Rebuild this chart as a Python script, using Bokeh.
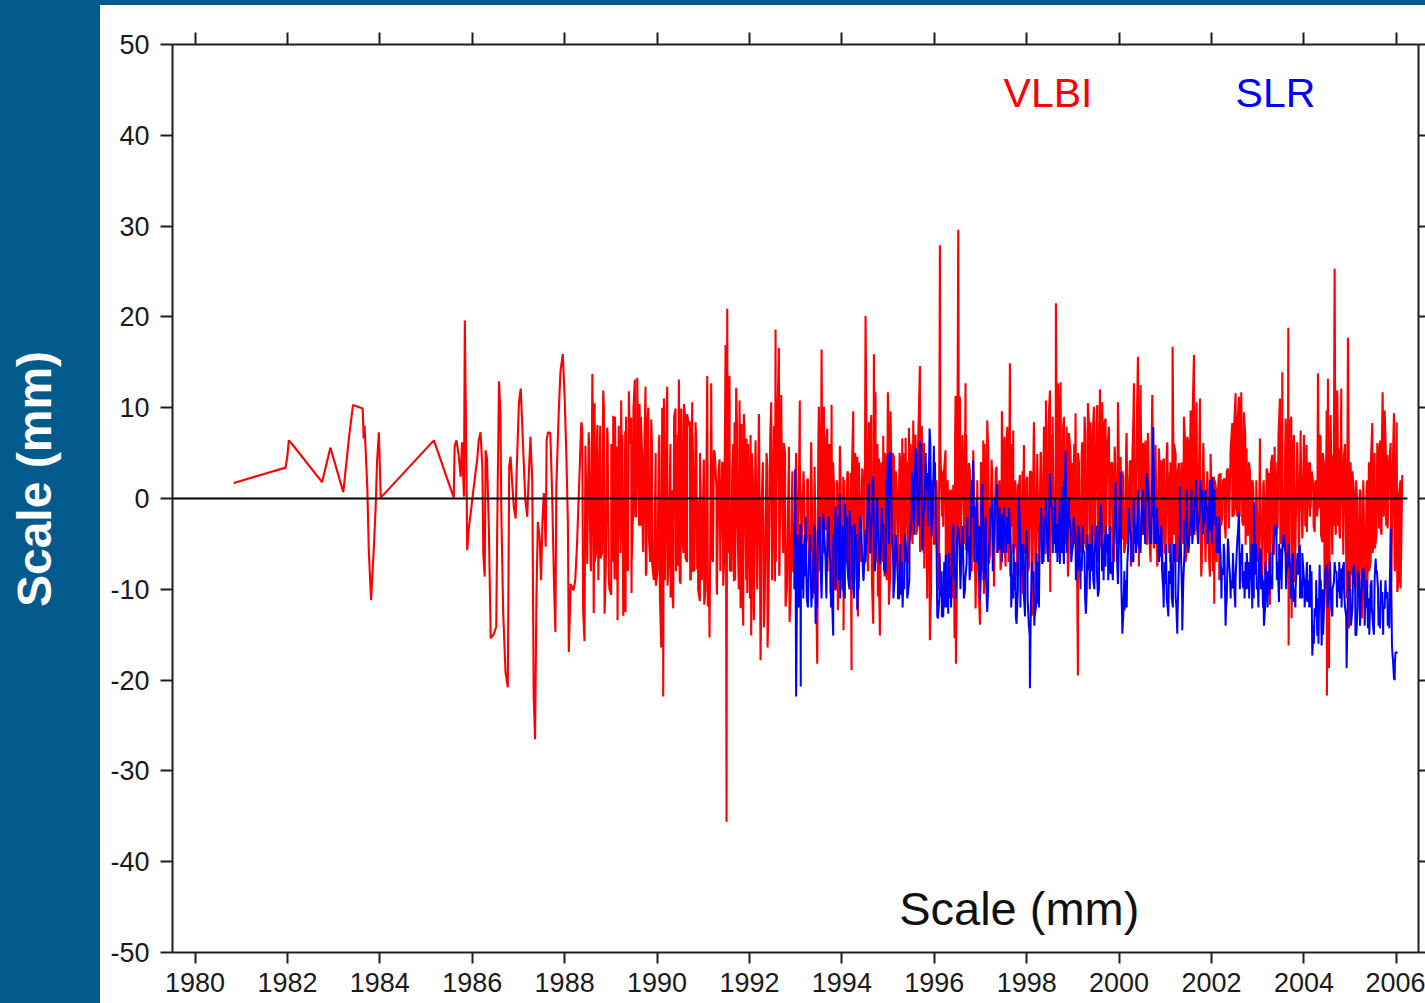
import math
from bokeh.plotting import figure
from bokeh.models import Range1d, FixedTicker, Label, LinearAxis, Div
from bokeh.layouts import row, column
from bokeh.embed import file_html
from bokeh.resources import INLINE

# ---------------- data ----------------
x_ticks = [1980, 1982, 1984, 1986, 1988, 1990, 1992, 1994, 1996, 1998, 2000, 2002, 2004, 2006]
x_tick_labels = ["1980", "1982", "1984", "1986", "1988", "1990", "1992", "1994", "1996",
                 "1998", "2000", "2002", "2004", "2006"]
y_ticks = [-50, -40, -30, -20, -10, 0, 10, 20, 30, 40, 50]
y_tick_labels = ["-50", "-40", "-30", "-20", "-10", "0", "10", "20", "30", "40", "50"]

# VLBI scale (mm) : (year, value) -- envelope / spike readings
vlbi_1980_1985 = [
    (1980.84, 1.7), (1981.42, 2.6), (1981.96, 3.4), (1982.00, 4.7), (1982.03, 6.4), (1982.10, 6.0),
    (1982.75, 1.8), (1982.93, 5.6), (1983.21, 0.7), (1983.33, 6.6), (1983.42, 10.3), (1983.63, 9.9),
    (1983.65, 6.6), (1983.67, 8.0), (1983.73, 1.1), (1983.76, -5.5), (1983.81, -11.2), (1983.87, -5.5),
    (1983.91, -1.0), (1983.94, 4.0), (1983.98, 7.3), (1984.02, 0.1), (1985.17, 6.4), (1985.60, 0.1),
]
vlbi_1985_1988 = [
    (1985.62, 5.8), (1985.66, 6.4), (1985.71, 4.6), (1985.75, 2.4), (1985.78, 6.2), (1985.82, 0.2),
    (1985.84, 19.6), (1985.88, 0.7), (1985.89, -5.7), (1985.93, -3.1), (1985.98, -1.1), (1986.02, 0.7),
    (1986.07, 2.8), (1986.11, 4.4), (1986.14, 6.4), (1986.18, 7.3), (1986.22, 3.3), (1986.24, -6.2),
    (1986.27, -8.6), (1986.29, 5.3), (1986.32, 4.4), (1986.36, -3.3), (1986.40, -15.4), (1986.47, -14.9),
    (1986.52, -14.1), (1986.54, -3.5), (1986.58, 12.9), (1986.61, 9.3), (1986.63, -1.7), (1986.67, -12.5),
    (1986.72, -19.1), (1986.77, -20.8), (1986.80, 3.5), (1986.83, 4.6), (1986.87, 1.3), (1986.90, -0.9),
    (1986.94, -2.2), (1986.96, 2.8), (1987.01, 10.5), (1987.05, 12.1), (1987.08, 8.4), (1987.12, 3.3),
    (1987.15, -0.2), (1987.19, -2.0), (1987.23, 3.3), (1987.26, 6.8), (1987.30, 1.8), (1987.33, -21.8),
    (1987.36, -26.5), (1987.39, -10.8), (1987.42, -2.6), (1987.46, -4.4), (1987.49, -9.0), (1987.52, -2.4),
    (1987.55, 0.6), (1987.59, -5.3), (1987.61, 6.4), (1987.64, 7.3), (1987.69, 7.2), (1987.73, 0.4),
    (1987.77, -9.4), (1987.80, -14.7), (1987.82, 1.3), (1987.87, 9.2), (1987.91, 14.0), (1987.96, 15.9),
    (1988.00, 11.2), (1988.04, 4.2), (1988.07, -2.6), (1988.09, -16.9), (1988.13, -9.4), (1988.19, -10.1),
    (1988.23, -9.0), (1988.27, -4.8), (1988.32, 2.4), (1988.36, 8.4), (1988.38, 7.8), (1988.40, -12.3),
    (1988.43, -15.7), (1988.45, 5.8), (1988.49, -7.2), (1988.52, 7.3), (1988.56, -6.9), (1988.60, 13.7),
    (1988.63, -12.6), (1988.65, 10.5), (1988.68, -6.0), (1988.71, 8.1),
]
vlbi_1988_1993 = [
    (1988.777, -6.6), (1988.835, 11.9), (1988.864, -12.7), (1988.921, 7.8), (1988.957, -8.9),
    (1989.008, -10.6), (1989.051, 9.1), (1989.080, -8.9), (1989.138, 5.7), (1989.145, -13.4),
    (1989.224, 10.8), (1989.246, -4.6), (1989.268, -12.9), (1989.311, 7.4), (1989.318, -12.5),
    (1989.354, -7.4), (1989.390, 11.8), (1989.441, 8.9), (1989.448, -10.4), (1989.484, -1.1),
    (1989.520, 13.1), (1989.545, -2.0), (1989.571, 13.3), (1989.621, 10.4), (1989.643, -3.0),
    (1989.679, 4.4), (1989.701, -5.9), (1989.751, 12.3), (1989.758, -8.5), (1989.787, 7.6),
    (1989.823, -4.1), (1989.874, 8.7), (1989.895, -7.2), (1989.968, 3.6), (1989.975, -9.6),
    (1990.040, 6.3), (1990.061, -10.4), (1990.090, -16.4), (1990.112, 10.0), (1990.133, -21.8),
    (1990.148, 11.0), (1990.220, 12.3), (1990.227, -9.6), (1990.292, -10.9), (1990.328, 0.9),
    (1990.350, -12.1), (1990.400, 9.9), (1990.451, -7.4), (1990.473, 13.1), (1990.509, -9.4),
    (1990.523, 9.9), (1990.550, -4.0), (1990.581, 10.4), (1990.617, -6.6), (1990.653, 9.3),
    (1990.711, 8.5), (1990.718, -8.9), (1990.761, 10.6), (1990.768, -8.1), (1990.833, 8.4),
    (1990.869, -7.8), (1990.884, -0.2), (1990.927, -11.3), (1990.942, 1.3), (1991.014, 4.3),
    (1991.021, -11.7), (1991.086, 13.5), (1991.100, -11.9), (1991.136, -15.3), (1991.172, 12.7),
    (1991.194, -6.6), (1991.230, 5.3), (1991.288, 0.9), (1991.295, -10.6), (1991.353, 4.3),
    (1991.374, -5.3), (1991.425, 3.9), (1991.432, -9.6), (1991.483, 16.9), (1991.504, -35.6),
    (1991.519, 20.9), (1991.569, 13.5), (1991.576, -7.9), (1991.627, 3.5), (1991.663, -9.1),
    (1991.677, 8.4), (1991.713, 12.2), (1991.735, -1.3), (1991.786, 10.8), (1991.807, -12.1),
    (1991.829, 8.2), (1991.865, -14.0), (1991.879, 9.3), (1991.937, 6.6), (1991.952, -10.4),
    (1992.024, 7.0), (1992.038, -15.1), (1992.074, 2.4), (1992.096, -13.4), (1992.132, 6.4),
    (1992.168, -10.0), (1992.204, 9.3), (1992.240, -17.8), (1992.255, -2.1), (1992.312, -14.2),
    (1992.385, 3.6), (1992.392, -16.4), (1992.471, 10.6), (1992.493, -8.1), (1992.551, -9.1),
    (1992.565, 18.6), (1992.637, 16.6), (1992.644, -8.5), (1992.688, 11.4), (1992.709, -0.4),
    (1992.745, 6.1), (1992.781, -11.9), (1992.854, 5.7), (1992.868, -13.6), (1992.926, 2.4),
    (1992.947, -8.1), (1992.998, 1.6), (1993.040, -7.0), (1993.090, 10.8),
]
vlbi_1993_1997 = [
    (1993.142, -2.8), (1993.178, 1.6), (1993.250, -3.5), (1993.265, 2.2), (1993.323, -5.0),
    (1993.337, 6.2), (1993.395, -10.5), (1993.409, 3.5), (1993.467, -18.2), (1993.503, 10.1),
    (1993.539, -7.5), (1993.561, 16.4), (1993.585, -3.0), (1993.611, 10.1), (1993.647, -3.5),
    (1993.683, 7.7), (1993.755, -10.5), (1993.777, 10.3), (1993.791, -11.6), (1993.828, 1.6),
    (1993.864, -10.1), (1993.900, 1.3), (1993.914, -12.3), (1993.957, 5.8), (1993.990, -6.0),
    (1994.030, 2.4), (1994.037, -14.5), (1994.080, -5.7), (1994.116, 2.8), (1994.152, -8.6),
    (1994.188, 2.8), (1994.210, -18.9), (1994.246, 9.6), (1994.275, -8.6), (1994.333, 4.6),
    (1994.347, -13.0), (1994.375, 3.0), (1994.405, -6.4), (1994.441, 3.3), (1994.491, -7.2),
    (1994.513, 20.1), (1994.564, -7.9), (1994.585, 8.4), (1994.610, -5.0), (1994.636, 9.2),
    (1994.679, -13.8), (1994.693, 15.9), (1994.710, -4.0), (1994.729, 11.7), (1994.780, -10.8),
    (1994.802, 4.4), (1994.823, -15.1), (1994.860, 3.0), (1994.895, 6.9), (1994.924, -8.6),
    (1994.960, 4.0), (1994.996, 11.7), (1995.018, -11.7), (1995.054, 9.6), (1995.090, -5.0),
    (1995.126, 4.6), (1995.133, -9.4), (1995.198, -0.2), (1995.213, -7.5), (1995.260, 4.0),
    (1995.307, 6.6), (1995.314, -10.8), (1995.379, 6.7), (1995.400, -3.0), (1995.429, -7.2),
    (1995.451, 7.8), (1995.490, -3.0), (1995.523, -4.6), (1995.545, 8.6), (1995.570, -2.0),
    (1995.595, 7.0), (1995.640, -3.0), (1995.689, 14.6), (1995.696, -5.9), (1995.730, 4.0),
    (1995.776, 6.1), (1995.783, -7.7), (1995.820, 3.0), (1995.848, -11.0), (1995.884, 3.9),
    (1995.905, -15.6), (1995.940, 2.0), (1995.978, 0.9), (1995.992, -5.0), (1996.050, 1.6),
    (1996.100, -10.1), (1996.122, 27.9), (1996.172, -0.6), (1996.183, 3.0), (1996.194, -3.1),
    (1996.244, 5.3), (1996.281, -11.2), (1996.338, 0.9), (1996.353, -9.7), (1996.411, 1.5),
    (1996.439, -15.4), (1996.461, 11.3), (1996.468, -18.2), (1996.519, 29.6), (1996.540, -3.0),
    (1996.555, 11.2), (1996.569, -8.6), (1996.620, 5.0), (1996.677, 12.7), (1996.684, -5.7),
    (1996.750, 3.9), (1996.786, -7.5), (1996.844, 5.3), (1996.894, -12.1), (1996.930, 1.3),
    (1996.988, -13.9), (1997.025, 3.0), (1997.060, 6.4), (1997.074, -10.5), (1997.146, 8.6),
    (1997.183, -7.2), (1997.240, 4.3), (1997.291, -9.7), (1997.348, 3.5), (1997.370, -4.0),
    (1997.399, 1.1), (1997.435, -7.9), (1997.464, 9.6), (1997.490, -4.0), (1997.522, 6.8),
    (1997.543, -7.5), (1997.580, 7.9), (1997.610, -5.0), (1997.637, 14.9), (1997.644, -8.6),
]
vlbi_1997_2002 = [
    (1997.688, -3.1), (1997.709, 7.5), (1997.738, -5.3), (1997.760, 0.9), (1997.796, -8.6),
    (1997.810, 1.6), (1997.830, -4.0), (1997.854, 2.6), (1997.868, -8.6), (1997.904, 0.2),
    (1997.911, -10.5), (1997.940, 5.9), (1997.976, -5.7), (1998.012, 2.4), (1998.048, -7.5),
    (1998.099, 2.9), (1998.120, -12.9), (1998.157, 8.4), (1998.193, -10.1), (1998.229, 4.9),
    (1998.265, -6.4), (1998.301, 5.1), (1998.337, -7.2), (1998.373, 7.9), (1998.409, -6.1),
    (1998.416, 10.8), (1998.460, -4.0), (1998.503, 11.9), (1998.510, -10.3), (1998.553, -3.5),
    (1998.561, 9.0), (1998.626, -2.4), (1998.633, 21.5), (1998.655, -3.0), (1998.676, 12.7),
    (1998.698, -5.3), (1998.734, 12.8), (1998.770, -3.0), (1998.806, 9.0), (1998.813, -5.0),
    (1998.864, 7.9), (1998.893, -8.6), (1998.914, 7.2), (1998.965, -4.2), (1998.986, 3.9),
    (1999.037, -5.0), (1999.058, 9.4), (1999.085, -4.0), (1999.109, -19.5), (1999.131, 3.9),
    (1999.181, -5.7), (1999.203, 6.2), (1999.230, -4.0), (1999.253, 9.0), (1999.275, -5.0),
    (1999.325, 10.5), (1999.369, -6.0), (1999.383, 8.4), (1999.420, -4.0), (1999.455, 10.1),
    (1999.462, -3.0), (1999.527, 10.3), (1999.542, -7.0), (1999.585, 12.0), (1999.614, -5.5),
    (1999.636, 10.6), (1999.670, -4.0), (1999.708, 8.8), (1999.715, -4.0), (1999.780, 7.9),
    (1999.802, -5.0), (1999.852, 3.9), (1999.888, -7.0), (1999.903, 5.7), (1999.960, -5.0),
    (1999.975, 10.6), (2000.000, -4.0), (2000.032, 4.6), (2000.069, -4.5), (2000.090, 2.4),
    (2000.141, -5.0), (2000.162, 7.2), (2000.200, -4.0), (2000.249, 4.2), (2000.256, -7.5),
    (2000.290, 5.0), (2000.321, 12.7), (2000.335, -4.5), (2000.408, 15.6), (2000.429, -7.5),
    (2000.465, 12.5), (2000.501, -3.0), (2000.523, 6.1), (2000.550, -4.0), (2000.574, 6.4),
    (2000.610, -5.0), (2000.624, 7.2), (2000.682, -7.0), (2000.718, 11.4), (2000.754, -5.5),
    (2000.790, 5.9), (2000.826, -7.5), (2000.862, 5.5), (2000.890, -5.0), (2000.913, 4.2),
    (2000.934, -8.0), (2000.970, 4.4), (2001.006, -6.0), (2001.043, 6.2), (2001.070, -5.0),
    (2001.100, 2.9), (2001.107, -7.0), (2001.158, 16.7), (2001.187, -4.0), (2001.223, 4.9),
    (2001.259, -7.0), (2001.295, 3.9), (2001.320, -5.0), (2001.346, 3.5), (2001.367, -3.5),
    (2001.403, 9.0), (2001.439, -7.0), (2001.475, 6.8), (2001.512, -4.5), (2001.548, 9.7),
    (2001.584, -4.0), (2001.620, 15.8), (2001.650, -3.0), (2001.677, 10.6), (2001.692, -3.5),
    (2001.750, 11.0), (2001.778, -8.6), (2001.822, 6.1), (2001.872, -6.4), (2001.908, 2.9),
    (2001.966, -8.6), (2001.980, 4.9), (2002.020, -6.0), (2002.052, 2.4), (2002.059, -11.6),
    (2002.100, 1.0), (2002.161, 2.7), (2002.168, -9.0),
]
vlbi_2002_2006 = [
    (2002.197, 2.8), (2002.233, -1.8), (2002.284, 2.2), (2002.305, -4.4), (2002.356, 3.3),
    (2002.377, -3.3), (2002.410, 4.0), (2002.450, 8.3), (2002.486, -1.8), (2002.522, 11.6),
    (2002.560, -2.0), (2002.594, 11.2), (2002.601, -1.1), (2002.644, 11.7), (2002.666, -2.6),
    (2002.702, 9.5), (2002.738, -5.1), (2002.760, 5.5), (2002.800, -4.0), (2002.832, 2.9),
    (2002.839, -6.2), (2002.860, 2.0), (2002.882, -8.8), (2002.904, 1.1), (2002.955, -7.3),
    (2002.976, 0.4), (2003.027, -5.5), (2003.048, 6.6), (2003.099, -8.4), (2003.121, 1.5),
    (2003.171, -11.0), (2003.193, 3.3), (2003.220, -6.0), (2003.243, 2.8), (2003.265, -11.7),
    (2003.315, 4.8), (2003.351, -6.2), (2003.366, 5.7), (2003.400, -4.0), (2003.424, 4.0),
    (2003.431, -3.3), (2003.481, 11.0), (2003.510, -4.0), (2003.532, 13.9), (2003.539, -5.5),
    (2003.604, 8.8), (2003.611, -5.1), (2003.662, 18.8), (2003.669, -16.2), (2003.727, 9.0),
    (2003.734, -13.2), (2003.784, 7.0), (2003.799, -9.2), (2003.856, 6.2), (2003.893, -6.2),
    (2003.929, 7.5), (2003.965, -4.4), (2004.001, 7.0), (2004.030, -3.0), (2004.058, 5.9),
    (2004.065, -3.7), (2004.131, 4.0), (2004.145, -1.1), (2004.203, 1.5), (2004.232, -3.7),
    (2004.253, 0.0), (2004.304, 13.8), (2004.325, -1.1), (2004.362, 6.8), (2004.398, -4.8),
    (2004.434, 3.7), (2004.448, -9.9), (2004.491, 9.7), (2004.498, -21.7), (2004.520, 13.2),
    (2004.542, -18.7), (2004.578, 9.2), (2004.614, -6.2), (2004.636, 4.8), (2004.650, -3.0),
    (2004.665, 25.3), (2004.686, -3.7), (2004.722, 11.9), (2004.740, -3.0), (2004.758, 5.5),
    (2004.780, -4.4), (2004.809, 12.1), (2004.852, -6.2), (2004.867, 4.8), (2004.924, -11.0),
    (2004.953, 17.7), (2004.975, -14.3), (2005.011, 4.0), (2005.047, -8.4), (2005.083, 0.7),
    (2005.119, -9.9), (2005.155, -0.5), (2005.191, -10.6), (2005.227, 0.7), (2005.263, -13.2),
    (2005.285, 2.0), (2005.320, -12.0), (2005.357, 1.1), (2005.372, -9.9), (2005.408, 4.0),
    (2005.444, -7.0), (2005.480, 8.3), (2005.510, -4.0), (2005.530, 3.3), (2005.537, -5.5),
    (2005.588, 6.1), (2005.624, -3.3), (2005.646, 6.4), (2005.680, -4.0), (2005.704, 11.7),
    (2005.732, -0.4), (2005.747, 9.7), (2005.780, -3.0), (2005.805, 4.8), (2005.812, -3.3),
    (2005.877, 6.1), (2005.891, -9.2), (2005.949, 9.4), (2005.963, -7.0), (2006.007, 8.4),
    (2006.021, -10.3), (2006.057, 0.4), (2006.093, -9.9), (2006.129, 2.6),
]
# VLBI core-band readings (the dense fill between the envelopes)
vlbi_core_1988_1993 = [
    (1988.53, 6), (1988.57, -8), (1988.61, 9), (1988.65, -7), (1988.69, 5), (1988.73, -9), (1988.77, 8),
    (1988.81, -6), (1988.85, 10), (1988.89, -8), (1988.93, 7), (1988.97, -10), (1989.01, 6), (1989.05, -7),
    (1989.09, 9), (1989.13, -9), (1989.17, 8), (1989.21, -6), (1989.25, 7), (1989.29, -10), (1989.33, 9),
    (1989.37, -8), (1989.41, 6), (1989.45, -7), (1989.49, 10), (1989.53, -2), (1989.57, 8), (1989.61, -3),
    (1989.65, 9), (1989.69, -4), (1989.73, 7), (1989.77, -8), (1989.81, 10), (1989.85, -7), (1989.89, 6),
    (1989.93, -9), (1989.97, 5), (1990.01, -8), (1990.05, 7), (1990.09, -11), (1990.13, 8), (1990.17, -9),
    (1990.21, 10), (1990.25, -7), (1990.29, 6), (1990.33, -10), (1990.37, 9), (1990.41, -8), (1990.45, 7),
    (1990.49, -9), (1990.53, 8), (1990.57, -6), (1990.61, 9), (1990.65, -7), (1990.69, 8), (1990.73, -9),
    (1990.77, 7), (1990.81, -8), (1990.85, 6), (1990.89, -10), (1990.93, 5), (1990.97, -9), (1991.01, 4),
    (1991.05, -10), (1991.09, 9), (1991.13, -11), (1991.17, 8), (1991.21, -7), (1991.25, 5), (1991.29, -9),
    (1991.33, 3), (1991.37, -8), (1991.41, 4), (1991.45, -7), (1991.49, 9), (1991.53, -6), (1991.57, 10),
    (1991.61, -8), (1991.65, 6), (1991.69, -9), (1991.73, 8), (1991.77, -10), (1991.81, 7), (1991.85, -11),
    (1991.89, 8), (1991.93, -9), (1991.97, 6), (1992.01, -11), (1992.05, 5), (1992.09, -12), (1992.13, 6),
    (1992.17, -9), (1992.21, 7), (1992.25, -13), (1992.29, 4), (1992.33, -11), (1992.37, 5), (1992.41, -12),
    (1992.45, 7), (1992.49, -9), (1992.53, 8), (1992.57, -7), (1992.61, 10), (1992.65, -8), (1992.69, 9),
    (1992.73, -6), (1992.77, 5), (1992.81, -10), (1992.85, 4), (1992.89, -11), (1992.93, 3), (1992.97, -8),
]
vlbi_core_1993_1997 = [
    (1993.01, 5), (1993.05, -9), (1993.09, 4), (1993.13, -5), (1993.17, 3), (1993.21, -6), (1993.25, 2),
    (1993.29, -8), (1993.33, 4), (1993.37, -9), (1993.41, 3), (1993.45, -12), (1993.49, 6), (1993.53, -8),
    (1993.57, 8), (1993.61, -6), (1993.65, 5), (1993.69, -8), (1993.73, 6), (1993.77, -9), (1993.81, 4),
    (1993.85, -10), (1993.89, 2), (1993.93, -9), (1993.97, 3), (1994.01, -10), (1994.05, 2), (1994.09, -7),
    (1994.13, 3), (1994.17, -9), (1994.21, 1), (1994.25, -10), (1994.29, 5), (1994.33, -9), (1994.37, 4),
    (1994.41, -7), (1994.45, 3), (1994.49, -6), (1994.53, 9), (1994.57, -8), (1994.61, 6), (1994.65, -9),
    (1994.69, 8), (1994.73, -7), (1994.77, 6), (1994.81, -11), (1994.85, 4), (1994.89, -7), (1994.93, 5),
    (1994.97, -9), (1995.01, 7), (1995.05, -8), (1995.09, 5), (1995.13, -7), (1995.17, 3), (1995.21, -8),
    (1995.25, 5), (1995.29, -9), (1995.33, 5), (1995.37, -7), (1995.41, 4), (1995.45, -6), (1995.49, 6),
    (1995.53, -5), (1995.57, 6), (1995.61, -4), (1995.65, 6), (1995.69, -5), (1995.73, 8), (1995.77, -6),
    (1995.81, 4), (1995.85, -9), (1995.89, 2), (1995.93, -10), (1995.97, 1), (1996.01, -5), (1996.05, 2),
    (1996.09, -8), (1996.13, 6), (1996.17, -2), (1996.21, 3), (1996.25, -8), (1996.29, 2), (1996.33, -9),
    (1996.37, 1), (1996.41, -11), (1996.45, 6), (1996.49, -9), (1996.53, 8), (1996.57, -6), (1996.61, 7),
    (1996.65, -5), (1996.69, 7), (1996.73, -6), (1996.77, 3), (1996.81, -8), (1996.85, 3), (1996.89, -10),
    (1996.93, 2), (1996.97, -11), (1997.01, 4), (1997.05, -8), (1997.09, 6), (1997.13, -7), (1997.17, 5),
    (1997.21, -6), (1997.25, 3), (1997.29, -8), (1997.33, 3), (1997.37, -6), (1997.41, 2), (1997.45, -7),
    (1997.49, 5), (1997.53, -6), (1997.57, 6), (1997.61, -7),
]
vlbi_core_1997_2002 = [
    (1997.67, 6), (1997.71, -6), (1997.75, 2), (1997.79, -7), (1997.83, 1), (1997.87, -8), (1997.91, 3),
    (1997.95, -6), (1997.99, 2), (1998.03, -8), (1998.07, 3), (1998.11, -10), (1998.15, 6), (1998.19, -8),
    (1998.23, 4), (1998.27, -7), (1998.31, 5), (1998.35, -6), (1998.39, 7), (1998.43, -5), (1998.47, 8),
    (1998.51, -7), (1998.55, 7), (1998.59, -4), (1998.63, 10), (1998.67, -4), (1998.71, 9), (1998.75, -4),
    (1998.79, 8), (1998.83, -5), (1998.87, 6), (1998.91, -6), (1998.95, 5), (1998.99, -5), (1999.03, 6),
    (1999.07, -5), (1999.11, 5), (1999.15, -6), (1999.19, 5), (1999.23, -5), (1999.27, 7), (1999.31, -6),
    (1999.35, 8), (1999.39, -5), (1999.43, 7), (1999.47, -6), (1999.51, 8), (1999.55, -6), (1999.59, 9),
    (1999.63, -5), (1999.67, 8), (1999.71, -5), (1999.75, 6), (1999.79, -6), (1999.83, 4), (1999.87, -6),
    (1999.91, 5), (1999.95, -5), (1999.99, 6), (2000.03, -5), (2000.07, 3), (2000.11, -6), (2000.15, 5),
    (2000.19, -5), (2000.23, 4), (2000.27, -6), (2000.31, 9), (2000.35, -5), (2000.39, 10), (2000.43, -6),
    (2000.47, 9), (2000.51, -4), (2000.55, 5), (2000.59, -5), (2000.63, 6), (2000.67, -6), (2000.71, 8),
    (2000.75, -5), (2000.79, 5), (2000.83, -7), (2000.87, 4), (2000.91, -6), (2000.95, 4), (2000.99, -6),
    (2001.03, 5), (2001.07, -6), (2001.11, 4), (2001.15, -5), (2001.19, 6), (2001.23, -6), (2001.27, 3),
    (2001.31, -6), (2001.35, 4), (2001.39, -5), (2001.43, 6), (2001.47, -5), (2001.51, 6), (2001.55, -4),
    (2001.59, 9), (2001.63, -4), (2001.67, 8), (2001.71, -5), (2001.75, 7), (2001.79, -7), (2001.83, 4),
    (2001.87, -7), (2001.91, 3), (2001.95, -7), (2001.99, 3), (2002.03, -8), (2002.07, 2), (2002.11, -7),
    (2002.15, 2),
]
vlbi_core_2002_2006 = [
    (2002.21, -3), (2002.25, 2), (2002.29, -3), (2002.33, 3), (2002.37, -2), (2002.41, 5), (2002.45, -2),
    (2002.49, 8), (2002.53, -1), (2002.57, 9), (2002.61, -2), (2002.65, 9), (2002.69, -3), (2002.73, 7),
    (2002.77, -4), (2002.81, 4), (2002.85, -5), (2002.89, 2), (2002.93, -7), (2002.97, 2), (2003.01, -7),
    (2003.05, 3), (2003.09, -8), (2003.13, 2), (2003.17, -9), (2003.21, 3), (2003.25, -9), (2003.29, 4),
    (2003.33, -6), (2003.37, 4), (2003.41, -4), (2003.45, 7), (2003.49, -5), (2003.53, 9), (2003.57, -5),
    (2003.61, 8), (2003.65, -8), (2003.69, 8), (2003.73, -10), (2003.77, 6), (2003.81, -7), (2003.85, 5),
    (2003.89, -5), (2003.93, 6), (2003.97, -4), (2004.01, 5), (2004.05, -3), (2004.09, 4), (2004.13, -2),
    (2004.17, 3), (2004.21, -3), (2004.25, 2), (2004.29, -2), (2004.33, 7), (2004.37, -4), (2004.41, 5),
    (2004.45, -6), (2004.49, 7), (2004.53, -10), (2004.57, 7), (2004.61, -5), (2004.65, 6), (2004.69, -4),
    (2004.73, 8), (2004.77, -4), (2004.81, 7), (2004.85, -5), (2004.89, 6), (2004.93, -9), (2004.97, 5),
    (2005.01, -8), (2005.05, 3), (2005.09, -9), (2005.13, 2), (2005.17, -10), (2005.21, 1), (2005.25, -11),
    (2005.29, 1), (2005.33, -10), (2005.37, 2), (2005.41, -8), (2005.45, 4), (2005.49, -6), (2005.53, 5),
    (2005.57, -4), (2005.61, 5), (2005.65, -3), (2005.69, 7), (2005.73, -2), (2005.77, 6), (2005.81, -3),
    (2005.85, 4), (2005.89, -7), (2005.93, 5), (2005.97, -8), (2006.01, 5), (2006.05, -9), (2006.09, 2),
]

# SLR scale (mm) : (year, value)
slr_1993_1997 = [
    (1992.97, -10.0), (1992.99, 3.2), (1993.01, -21.8), (1993.05, -6.0), (1993.08, -9.0),
    (1993.10, -2.8), (1993.11, -20.7), (1993.164, -5.0), (1993.214, -8.6), (1993.286, -7.2),
    (1993.359, -9.4), (1993.431, -13.8), (1993.481, -3.5), (1993.539, -7.2), (1993.597, -1.7),
    (1993.647, -6.8), (1993.698, -2.8), (1993.755, -7.2), (1993.813, -15.1), (1993.864, -0.9),
    (1993.914, -5.7), (1993.957, 0.5), (1994.008, -8.6), (1994.066, -0.6), (1994.116, -7.2),
    (1994.167, -1.3), (1994.224, -8.3), (1994.275, -2.8), (1994.333, -12.3), (1994.390, -2.0),
    (1994.441, -6.2), (1994.513, -3.5), (1994.585, 1.6), (1994.636, -2.8), (1994.679, 2.4),
    (1994.729, -6.4), (1994.780, -3.7), (1994.838, -7.2), (1994.895, -2.8), (1994.946, -8.3),
    (1994.996, 5.0), (1995.054, 5.1), (1995.112, -7.2), (1995.162, -4.2), (1995.213, -9.4),
    (1995.271, -10.6), (1995.328, -9.0), (1995.379, -5.0), (1995.429, -10.5), (1995.487, -3.5),
    (1995.545, 1.6), (1995.595, 5.5), (1995.646, -2.8), (1995.689, 6.4), (1995.739, -5.7),
    (1995.790, -0.6), (1995.848, 2.8), (1995.898, 7.7), (1995.941, -4.2), (1995.992, 5.8),
    (1996.028, -1.3), (1996.079, -13.2), (1996.136, -10.8), (1996.194, -13.0), (1996.252, -6.2),
    (1996.302, -12.7), (1996.353, -8.6), (1996.411, -2.8), (1996.461, -7.5), (1996.533, -3.5),
    (1996.591, -5.3), (1996.641, -11.0), (1996.699, -7.2), (1996.750, -4.2), (1996.800, 0.2),
    (1996.844, 4.2), (1996.894, -5.0), (1996.945, -5.3), (1996.988, -11.2), (1997.038, 1.6),
    (1997.089, -6.4), (1997.146, -12.5), (1997.204, -4.2), (1997.255, 0.2), (1997.305, -2.8),
    (1997.363, 1.6), (1997.421, -5.7), (1997.471, -1.7), (1997.522, -4.6), (1997.580, -2.0),
    (1997.637, -3.5),
]
slr_1997_2002 = [
    (1997.688, -8.3), (1997.738, -10.1), (1997.781, -13.8), (1997.832, 0.2), (1997.882, -5.0),
    (1997.940, -10.8), (1997.998, -3.5), (1998.048, -14.1), (1998.070, -20.9), (1998.120, -9.0),
    (1998.171, -13.0), (1998.229, -11.6), (1998.286, -2.8), (1998.337, -7.2), (1998.387, -2.0),
    (1998.445, -5.0), (1998.503, 2.8), (1998.553, -0.9), (1998.604, -5.0), (1998.662, -2.8),
    (1998.719, -7.2), (1998.770, 1.3), (1998.806, -7.2), (1998.842, 5.3), (1998.893, -2.8),
    (1998.950, -3.5), (1999.008, -5.0), (1999.058, -4.2), (1999.109, -7.9), (1999.167, -6.8),
    (1999.224, -5.7), (1999.282, -12.7), (1999.325, -7.9), (1999.383, -5.0), (1999.441, -9.0),
    (1999.491, -4.6), (1999.542, -10.8), (1999.600, -0.6), (1999.657, -5.0), (1999.708, -7.5),
    (1999.758, -3.9), (1999.816, -8.3), (1999.874, -5.7), (1999.924, 1.8), (1999.975, -9.4),
    (2000.032, 2.9), (2000.069, -14.9), (2000.119, -12.3), (2000.177, -7.2), (2000.234, -3.5),
    (2000.285, -6.4), (2000.335, -5.0), (2000.393, -2.8), (2000.451, -5.7), (2000.501, -0.6),
    (2000.552, -2.8), (2000.595, 2.8), (2000.646, -0.9), (2000.696, -5.0), (2000.740, 7.9),
    (2000.790, -2.8), (2000.840, -3.5), (2000.898, -6.4), (2000.956, -10.1), (2001.006, -9.4),
    (2001.057, -12.3), (2001.115, -9.4), (2001.172, -5.0), (2001.223, -10.8), (2001.259, -14.9),
    (2001.317, 1.3), (2001.367, -14.5), (2001.418, -2.4), (2001.475, -5.0), (2001.533, -2.8),
    (2001.584, -5.0), (2001.634, 0.2), (2001.692, -2.8), (2001.750, -1.3), (2001.800, 0.9),
    (2001.851, -2.8), (2001.908, -0.9), (2001.966, -3.5), (2002.017, 2.4), (2002.067, -2.0),
    (2002.125, -5.0), (2002.183, -5.3),
]
slr_2002_2006 = [
    (2002.197, -6.2), (2002.226, -7.7), (2002.255, -8.4), (2002.305, -14.0), (2002.356, -4.4),
    (2002.399, -8.4), (2002.450, -9.9), (2002.500, -10.6), (2002.543, -6.2), (2002.594, -1.5),
    (2002.644, -7.3), (2002.688, -9.9), (2002.738, -7.0), (2002.789, -9.9), (2002.846, -6.2),
    (2002.882, -12.1), (2002.919, -0.4), (2002.955, -8.4), (2003.005, -9.9), (2003.048, -5.5),
    (2003.099, -8.4), (2003.135, -14.0), (2003.193, -9.9), (2003.243, -10.6), (2003.294, -8.4),
    (2003.351, -4.8), (2003.402, -2.9), (2003.460, -11.4), (2003.510, -5.5), (2003.553, -4.4),
    (2003.604, -6.2), (2003.654, -7.3), (2003.712, -8.4), (2003.770, -11.4), (2003.820, -9.9),
    (2003.871, -8.4), (2003.914, -5.1), (2003.965, -11.0), (2004.015, -9.9), (2004.073, -11.4),
    (2004.131, -7.3), (2004.181, -17.3), (2004.232, -12.1), (2004.289, -15.1), (2004.340, -7.3),
    (2004.383, -16.2), (2004.434, -12.1), (2004.491, -7.3), (2004.542, -9.9), (2004.592, -12.1),
    (2004.650, -9.2), (2004.708, -8.1), (2004.758, -10.3), (2004.809, -7.7), (2004.867, -9.9),
    (2004.924, -18.7), (2004.975, -9.9), (2005.025, -13.6), (2005.083, -7.3), (2005.134, -15.1),
    (2005.184, -8.4), (2005.227, -11.4), (2005.285, -7.7), (2005.335, -9.9), (2005.386, -14.3),
    (2005.444, -9.5), (2005.501, -14.3), (2005.552, -6.6), (2005.603, -9.9), (2005.646, -14.3),
    (2005.696, -10.3), (2005.747, -12.1), (2005.805, -10.3), (2005.848, -14.3), (2005.877, -3.3),
    (2005.906, -16.2), (2005.949, -19.8), (2005.985, -16.9), (2006.021, -16.9),
]
slr_core = [
    (1993.04, -4), (1993.13, -10), (1993.19, -4), (1993.24, -11), (1993.31, -5), (1993.34, -12),
    (1993.39, -6), (1993.45, -9), (1993.51, -5), (1993.56, -11), (1993.62, -4), (1993.67, -9),
    (1993.72, -5), (1993.78, -10), (1993.83, -6), (1993.88, -3), (1993.93, -9), (1993.98, -4),
    (1994.03, -10), (1994.09, -3), (1994.14, -9), (1994.19, -4), (1994.25, -10), (1994.30, -5),
    (1994.36, -8), (1994.42, -4), (1994.47, -9), (1994.55, -2), (1994.61, -6), (1994.66, -1),
    (1994.70, -7), (1994.75, -2), (1994.81, -6), (1994.87, -4), (1994.92, -7), (1994.97, -1),
    (1995.03, 2), (1995.08, -4), (1995.14, -9), (1995.19, -6), (1995.24, -11), (1995.30, -7),
    (1995.35, -10), (1995.41, -6), (1995.46, -9), (1995.51, -2), (1995.57, 0), (1995.62, 3),
    (1995.67, -1), (1995.71, 4), (1995.76, -3), (1995.82, 1), (1995.87, -2), (1995.92, 3),
    (1995.96, -1), (1996.00, 2), (1996.05, -6), (1996.11, -11), (1996.16, -8), (1996.22, -12),
    (1996.28, -9), (1996.33, -11), (1996.38, -6), (1996.44, -9), (1996.49, -5), (1996.56, -8),
    (1996.61, -4), (1996.67, -9), (1996.72, -5), (1996.78, -8), (1996.82, -2), (1996.87, -1),
    (1996.92, -7), (1996.97, -3), (1997.01, -8), (1997.06, -3), (1997.12, -9), (1997.17, -6),
    (1997.23, -2), (1997.28, -6), (1997.33, -1), (1997.39, -4), (1997.45, -2), (1997.50, -6),
    (1997.55, -3), (1997.60, -5), (1997.66, -6), (1997.71, -11), (1997.76, -7), (1997.81, -10),
    (1997.86, -4), (1997.91, -8), (1997.97, -6), (1998.02, -11), (1998.09, -12), (1998.15, -8),
    (1998.20, -12), (1998.26, -7), (1998.31, -4), (1998.36, -6), (1998.41, -3), (1998.47, -6),
    (1998.53, -1), (1998.58, -3), (1998.63, -6), (1998.69, -4), (1998.74, -2), (1998.79, -5),
    (1998.82, -1), (1998.87, -5), (1998.92, -2), (1998.98, -6), (1999.03, -3), (1999.08, -6),
    (1999.14, -4), (1999.19, -8), (1999.25, -6), (1999.30, -10), (1999.35, -5), (1999.41, -8),
    (1999.47, -6), (1999.52, -8), (1999.57, -4), (1999.63, -8), (1999.68, -4), (1999.73, -6),
    (1999.79, -5), (1999.84, -7), (1999.90, -3), (1999.95, -6), (2000.00, -4), (2000.05, -10),
    (2000.09, -13), (2000.15, -9), (2000.20, -5), (2000.26, -4), (2000.31, -7), (2000.36, -3),
    (2000.42, -5), (2000.48, -2), (2000.53, -4), (2000.57, -1), (2000.62, 1), (2000.67, -3),
    (2000.72, -2), (2000.76, -1), (2000.81, -5), (2000.87, -4), (2000.93, -8), (2000.98, -7),
    (2001.03, -11), (2001.08, -8), (2001.14, -11), (2001.19, -7), (2001.24, -12), (2001.29, -8),
    (2001.34, -6), (2001.39, -9), (2001.44, -3), (2001.50, -6), (2001.56, -2), (2001.61, -3),
    (2001.66, -1), (2001.72, -3), (2001.77, 0), (2001.82, -2), (2001.88, -1), (2001.94, -3),
    (2001.99, 0), (2002.04, -3), (2002.10, -2), (2002.15, -6), (2002.21, -9), (2002.28, -6),
    (2002.33, -11), (2002.38, -7), (2002.42, -9), (2002.47, -7), (2002.52, -9), (2002.57, -4),
    (2002.62, -6), (2002.67, -9), (2002.71, -8), (2002.76, -10), (2002.81, -7), (2002.86, -9),
    (2002.90, -5), (2002.94, -7), (2002.98, -10), (2003.03, -7), (2003.07, -10), (2003.12, -9),
    (2003.16, -12), (2003.22, -8), (2003.27, -10), (2003.32, -6), (2003.38, -4), (2003.43, -7),
    (2003.48, -9), (2003.53, -6), (2003.58, -5), (2003.63, -8), (2003.68, -6), (2003.74, -9),
    (2003.79, -10), (2003.85, -7), (2003.89, -6), (2003.94, -9), (2003.99, -8), (2004.04, -10),
    (2004.10, -9), (2004.16, -12), (2004.21, -14), (2004.26, -13), (2004.31, -11), (2004.36, -12),
    (2004.41, -10), (2004.46, -9), (2004.51, -8), (2004.56, -11), (2004.62, -10), (2004.68, -8),
    (2004.73, -9), (2004.78, -11), (2004.83, -8), (2004.89, -12), (2004.95, -11), (2005.00, -10),
    (2005.05, -12), (2005.11, -10), (2005.16, -12), (2005.20, -9), (2005.25, -10), (2005.31, -9),
    (2005.36, -12), (2005.41, -11), (2005.47, -12), (2005.53, -9), (2005.58, -8), (2005.62, -12),
    (2005.67, -11), (2005.72, -12), (2005.78, -11), (2005.83, -12), (2005.86, -9), (2005.93, -18),
    (2005.97, -18), (2006.01, -17),
]
# SLR band extremes (the blue mass between its upper and lower edges)
slr_band = [
    (1993.065, -12), (1993.115, -3), (1993.165, -11), (1993.215, -2), (1993.265, -12), (1993.315, -4),
    (1993.365, -11), (1993.415, -3), (1993.465, -12), (1993.515, -2), (1993.565, -10), (1993.615, -3),
    (1993.665, -11), (1993.715, -2), (1993.765, -12), (1993.815, -4), (1993.865, -10), (1993.915, -2),
    (1993.965, -11), (1994.015, -3), (1994.065, -11), (1994.115, -2), (1994.165, -10), (1994.215, -3),
    (1994.265, -11), (1994.315, -4), (1994.365, -10), (1994.415, -3), (1994.465, -9), (1994.515, -7),
    (1994.565, 1), (1994.615, -6), (1994.665, 2), (1994.715, -8), (1994.765, 0), (1994.815, -7),
    (1994.865, -1), (1994.915, -8), (1994.965, 2), (1995.015, -5), (1995.065, 3), (1995.115, -11),
    (1995.165, -4), (1995.215, -11), (1995.265, -5), (1995.315, -12), (1995.365, -4), (1995.415, -11),
    (1995.465, -5), (1995.515, 3), (1995.565, -4), (1995.615, 5), (1995.665, -3), (1995.715, 6),
    (1995.765, -2), (1995.815, 5), (1995.865, -3), (1995.915, 6), (1995.965, -2), (1996.015, 4),
    (1996.065, -13), (1996.115, -6), (1996.165, -13), (1996.215, -7), (1996.265, -12), (1996.315, -6),
    (1996.365, -12), (1996.415, -5), (1996.465, -11), (1996.515, -3), (1996.565, -10), (1996.615, -3),
    (1996.665, -10), (1996.715, -2), (1996.765, -9), (1996.815, 2), (1996.865, -7), (1996.915, 0),
    (1996.965, -9), (1997.015, -1), (1997.065, -9), (1997.115, -2), (1997.165, -10), (1997.215, -1),
    (1997.265, -8), (1997.315, 0), (1997.365, -6), (1997.415, -1), (1997.465, -7), (1997.515, -1),
    (1997.565, -6), (1997.615, -1), (1997.665, -12), (1997.715, -5), (1997.765, -13), (1997.815, -4),
    (1997.865, -12), (1997.915, -5), (1997.965, -13), (1998.015, -6), (1998.065, -15), (1998.115, -7),
    (1998.165, -14), (1998.215, -6), (1998.265, -12), (1998.315, -1), (1998.365, -7), (1998.415, 0),
    (1998.465, -7), (1998.515, 1), (1998.565, -6), (1998.615, 0), (1998.665, -7), (1998.715, 0),
    (1998.765, -6), (1998.815, 2), (1998.865, -6), (1998.915, 0), (1998.965, -7), (1999.015, -2),
    (1999.065, -9), (1999.115, -3), (1999.165, -10), (1999.215, -3), (1999.265, -11), (1999.315, -4),
    (1999.365, -10), (1999.415, -3), (1999.465, -10), (1999.515, -3), (1999.565, -10), (1999.615, -2),
    (1999.665, -9), (1999.715, -3), (1999.765, -9), (1999.815, -3), (1999.865, -9), (1999.915, -1),
    (1999.965, -8), (2000.015, -1), (2000.065, -13), (2000.115, -8), (2000.165, -12), (2000.215, -1),
    (2000.265, -7), (2000.315, 0), (2000.365, -6), (2000.415, 1), (2000.465, -6), (2000.515, 1),
    (2000.565, -5), (2000.615, 2), (2000.665, -5), (2000.715, 2), (2000.765, -5), (2000.815, -1),
    (2000.865, -7), (2000.915, -3), (2000.965, -12), (2001.015, -5), (2001.065, -13), (2001.115, -5),
    (2001.165, -12), (2001.215, -5), (2001.265, -13), (2001.315, -4), (2001.365, -11), (2001.415, -6),
    (2001.465, 1), (2001.515, -5), (2001.565, 1), (2001.615, -4), (2001.665, 2), (2001.715, -5),
    (2001.765, 2), (2001.815, -4), (2001.865, 1), (2001.915, -5), (2001.965, 2), (2002.015, -5),
    (2002.065, 1), (2002.115, -6), (2002.165, -2), (2002.215, -11), (2002.265, -5), (2002.315, -12),
    (2002.365, -5), (2002.415, -11), (2002.465, -6), (2002.515, -12), (2002.565, -4), (2002.615, -10),
    (2002.665, -5), (2002.715, -11), (2002.765, -6), (2002.815, -11), (2002.865, -5), (2002.915, -11),
    (2002.965, -5), (2003.015, -12), (2003.065, -6), (2003.115, -12), (2003.165, -7), (2003.215, -12),
    (2003.265, -6), (2003.315, -10), (2003.365, -3), (2003.415, -9), (2003.465, -5), (2003.515, -10),
    (2003.565, -4), (2003.615, -10), (2003.665, -5), (2003.715, -11), (2003.765, -6), (2003.815, -12),
    (2003.865, -6), (2003.915, -11), (2003.965, -6), (2004.015, -12), (2004.065, -7), (2004.115, -12),
    (2004.165, -8), (2004.215, -16), (2004.265, -9), (2004.315, -16), (2004.365, -9), (2004.415, -15),
    (2004.465, -8), (2004.515, -12), (2004.565, -7), (2004.615, -13), (2004.665, -7), (2004.715, -12),
    (2004.765, -7), (2004.815, -12), (2004.865, -7), (2004.915, -13), (2004.965, -8), (2005.015, -14),
    (2005.065, -8), (2005.115, -15), (2005.165, -8), (2005.215, -14), (2005.265, -8), (2005.315, -14),
    (2005.365, -9), (2005.415, -15), (2005.465, -9), (2005.515, -15), (2005.565, -8), (2005.615, -14),
    (2005.665, -9), (2005.715, -15), (2005.765, -9), (2005.815, -14), (2005.865, -8), (2005.915, -17),
    (2005.965, -20),
]

zero_line_years = [1979.5, 2006.24]
zero_line_values = [0, 0]

vlbi = sorted(vlbi_1980_1985 + vlbi_1985_1988 + vlbi_1988_1993 + vlbi_1993_1997 + vlbi_1997_2002
              + vlbi_2002_2006 + vlbi_core_1988_1993 + vlbi_core_1993_1997 + vlbi_core_1997_2002
              + vlbi_core_2002_2006, key=lambda p: p[0])
slr = sorted(slr_1993_1997 + slr_1997_2002 + slr_2002_2006 + slr_core + slr_band, key=lambda p: p[0])
vlbi_year = [p[0] for p in vlbi]
vlbi_scale = [p[1] for p in vlbi]
slr_year = [p[0] for p in slr]
slr_scale = [p[1] for p in slr]

# ---------------- styling ----------------
BAND = "#035A8C"
FONT = "Liberation Sans"
AXIS = "#1e1e1e"

main = figure(width=1325, height=998, x_range=Range1d(1979.513, 2006.48), y_range=Range1d(-50, 50),
              output_backend="svg", toolbar_location=None,
              min_border_left=72, min_border_right=7, min_border_top=39, min_border_bottom=51,
              background_fill_color="white", border_fill_color="white", outline_line_color=None,
              margin=0)
main.xgrid.visible = False
main.ygrid.visible = False


def style_axis(ax, ticks, labels, show, tick_out, size="27px", standoff=9):
    ax.ticker = FixedTicker(ticks=ticks)
    ax.major_label_overrides = {t: (l if show else "") for t, l in zip(ticks, labels)}
    ax.minor_tick_line_color = None
    ax.major_tick_in = 0
    ax.major_tick_out = tick_out
    ax.axis_line_width = 2
    ax.major_tick_line_width = 2
    ax.axis_line_color = AXIS
    ax.major_tick_line_color = AXIS
    ax.major_label_text_font = FONT
    ax.major_label_text_color = "#1a1a1a"
    ax.major_label_text_font_size = size if show else "0px"
    ax.major_label_standoff = standoff if show else 0


style_axis(main.xaxis[0], x_ticks, x_tick_labels, True, 11)
style_axis(main.yaxis[0], y_ticks, y_tick_labels, True, 12, standoff=11)
top_axis = LinearAxis()
style_axis(top_axis, x_ticks, x_tick_labels, False, 12)
main.add_layout(top_axis, "above")
right_axis = LinearAxis()
style_axis(right_axis, y_ticks, y_tick_labels, False, 7)
main.add_layout(right_axis, "right")

main.line(vlbi_year, vlbi_scale, line_color="#FF0000", line_width=2.1)
main.line(slr_year, slr_scale, line_color="#0000FF", line_width=2.0)
main.line(zero_line_years, zero_line_values, line_color="black", line_width=2)

main.add_layout(Label(x=1997.50, y=44.7, text="VLBI", text_color="#FF0000", text_font=FONT,
                      text_font_size="41px", text_baseline="alphabetic", text_align="left"))
main.add_layout(Label(x=2002.52, y=44.7, text="SLR", text_color="#0000FF", text_font=FONT,
                      text_font_size="41px", text_baseline="alphabetic", text_align="left"))
main.add_layout(Label(x=1995.24, y=-45.1, text="Scale (mm)", text_color="#111111", text_font=FONT,
                      text_font_size="47px", text_baseline="alphabetic", text_align="left"))

# left blue band with rotated title (HTML text)
band_html = (
    '<div style="width:71px;height:947px;display:flex;align-items:center;justify-content:center;">'
    '<div style="transform:rotate(-90deg);white-space:nowrap;font-family:\'Liberation Sans\';'
    'font-weight:bold;font-size:48px;line-height:1;color:white;flex-shrink:0;">Scale (mm)</div></div>'
)
band = Div(text=band_html, width=100, height=998, margin=0,
           styles={"background-color": BAND, "overflow": "hidden"})
strip = Div(text="", width=1425, height=5, margin=0, styles={"background-color": BAND})

layout = column(strip, row(band, main, spacing=0, margin=0), spacing=0, margin=0)

open("out.html", "w").write(file_html(layout, INLINE))
